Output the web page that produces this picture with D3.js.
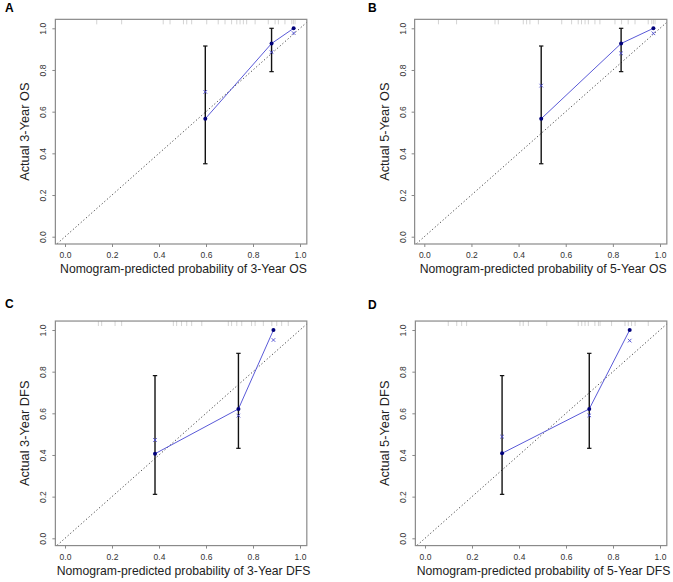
<!DOCTYPE html>
<html><head><meta charset="utf-8">
<script src="https://cdn.jsdelivr.net/npm/d3@7"></script>
<style>body{margin:0;background:#fff}svg{display:block}text{font-family:"Liberation Sans",Arial,sans-serif}</style>
</head><body>
<script>
// ---- data ----
const panelLetters = ["A", "B", "C", "D"];
const xLabels = ["Nomogram-predicted probability of 3-Year OS","Nomogram-predicted probability of 5-Year OS","Nomogram-predicted probability of 3-Year DFS","Nomogram-predicted probability of 5-Year DFS"];
const yLabels = ["Actual 3-Year OS","Actual 5-Year OS","Actual 3-Year DFS","Actual 5-Year DFS"];
const tickValues = [0, 0.2, 0.4, 0.6, 0.8, 1.0];
const predicted = [[0.597,0.879,0.973],[0.496,0.835,0.972],[0.383,0.738,0.887],[0.328,0.699,0.871]];
const observed  = [[0.566,0.927,1.0],[0.566,0.927,1.0],[0.406,0.621,1.0],[0.408,0.621,1.0]];
const ciLow     = [[0.350,0.792,null],[0.350,0.792,null],[0.211,0.432,null],[0.211,0.432,null]];
const ciHigh    = [[0.915,1.0,null],[0.915,1.0,null],[0.781,0.888,null],[0.781,0.888,null]];
const corrected = [[0.695,0.885,0.977],[0.725,0.880,0.976],[0.472,0.589,0.952],[0.488,0.590,0.949]];
const rugs = [
 [0.135,0.241,0.418,0.447,0.504,0.518,0.539,0.603,0.652,0.681,0.709,0.731,0.745,0.759,0.773,0.809,0.865,0.894,0.908,0.936,0.965,0.972,0.979],
 [0.060,0.137,0.300,0.314,0.420,0.434,0.448,0.484,0.583,0.625,0.653,0.667,0.682,0.696,0.724,0.745,0.809,0.837,0.865,0.894,0.950,0.965,0.972,0.979],
 [0.142,0.156,0.213,0.241,0.461,0.475,0.496,0.518,0.539,0.582,0.695,0.709,0.731,0.752,0.794,0.809,0.844,0.880,0.901,0.922,0.950],
 [0.099,0.135,0.156,0.177,0.404,0.418,0.440,0.518,0.652,0.667,0.681,0.695,0.723,0.738,0.745,0.794,0.851,0.865,0.879,0.894,0.950]
];

// ---- layout ----
const W = 673, H = 582;
const layout = [
  {x0:65, x1:300, y0:236.7, y1:28.3, lx:5, ly:12},
  {x0:424.3, x1:660, y0:236.7, y1:28.3, lx:368, ly:12},
  {x0:65, x1:300, y0:538.3, y1:330, lx:5, ly:308},
  {x0:425, x1:660, y0:538.3, y1:330, lx:368, ly:309}
];
const svg = d3.select("body").append("svg").attr("width", W).attr("height", H);

panelLetters.forEach((letter, i) => {
  const L = layout[i];
  const x = d3.scaleLinear().domain([0,1]).range([L.x0, L.x1]);
  const y = d3.scaleLinear().domain([0,1]).range([L.y0, L.y1]);
  const g = svg.append("g");
  const bx0 = x(-0.041), bx1 = x(1.029), by0 = y(-0.035), by1 = y(1.043);

  g.append("text").attr("x", L.lx).attr("y", L.ly).text(letter)
    .attr("font-weight","bold").attr("font-size", 12).attr("fill","#000");

  const clipId = "clip"+i;
  g.append("clipPath").attr("id", clipId).append("rect")
    .attr("x", bx0).attr("y", by1).attr("width", bx1-bx0).attr("height", by0-by1);

  // diagonal reference
  g.append("line").attr("clip-path", `url(#${clipId})`)
    .attr("x1", x(-0.1)).attr("y1", y(-0.1)).attr("x2", x(1.1)).attr("y2", y(1.1))
    .attr("stroke","#444").attr("stroke-width",1).attr("stroke-dasharray","1.2,2.3");

  // rug
  g.selectAll(".rug").data(rugs[i]).enter().append("line")
    .attr("x1", d=>x(d)).attr("x2", d=>x(d)).attr("y1", by1).attr("y2", by1+5)
    .attr("stroke","#c8c8c8").attr("stroke-width",0.8);

  // box
  g.append("rect").attr("x", bx0).attr("y", by1).attr("width", bx1-bx0).attr("height", by0-by1)
    .attr("fill","none").attr("stroke","#8a8a8a").attr("stroke-width",1.2);

  // axes
  const xa = g.append("g").attr("transform", `translate(0,${by0})`)
    .call(d3.axisBottom(x).tickValues(tickValues).tickFormat(d3.format(".1f")).tickSize(3).tickPadding(5));
  const ya = g.append("g").attr("transform", `translate(${bx0},0)`)
    .call(d3.axisLeft(y).tickValues(tickValues).tickFormat(d3.format(".1f")).tickSize(3).tickPadding(5));
  [xa, ya].forEach(a => {
    a.select(".domain").remove();
    a.selectAll(".tick line").attr("stroke","#888");
    a.selectAll(".tick text").attr("fill","#333").attr("font-size", 8.5)
      .attr("font-family","Liberation Sans, Arial, sans-serif");
  });
  ya.selectAll(".tick text").attr("x", 0).attr("y", 0).attr("dy", "0")
    .attr("text-anchor","middle").attr("transform", "translate(-9,0) rotate(-90)");

  // axis titles
  g.append("text").attr("x", (L.x0+L.x1)/2 + 1).attr("y", by0 + 29)
    .attr("text-anchor","middle").attr("font-size", 12.2).attr("fill","#222").text(xLabels[i]);
  g.append("text").attr("transform", `translate(${bx0-26},${(by0+by1)/2}) rotate(-90)`)
    .attr("text-anchor","middle").attr("font-size", 12.8).attr("fill","#222").text(yLabels[i]);

  // calibration line
  const pts = predicted[i].map((p,k)=>({p, o:observed[i][k], lo:ciLow[i][k], hi:ciHigh[i][k], c:corrected[i][k]}));
  g.append("path").datum(pts)
    .attr("d", d3.line().x(d=>x(d.p)).y(d=>y(d.o)))
    .attr("fill","none").attr("stroke","#5a5ad8").attr("stroke-width",1);

  // error bars
  pts.filter(d=>d.lo!==null).forEach(d=>{
    const cx = x(d.p);
    g.append("line").attr("x1",cx).attr("x2",cx).attr("y1",y(d.lo)).attr("y2",y(d.hi))
      .attr("stroke","#111").attr("stroke-width",1.4);
    [d.lo,d.hi].forEach(v=>g.append("line").attr("x1",cx-2.2).attr("x2",cx+2.2).attr("y1",y(v)).attr("y2",y(v))
      .attr("stroke","#111").attr("stroke-width",1.2));
  });

  // corrected (x markers)
  pts.forEach(d=>{
    const cx = x(d.p), cy = y(d.c), s = 1.8;
    g.append("path").attr("d", `M${cx-s},${cy-s}L${cx+s},${cy+s}M${cx-s},${cy+s}L${cx+s},${cy-s}`)
      .attr("stroke","#4b4bd0").attr("stroke-width",0.9).attr("fill","none");
  });

  // observed points
  g.selectAll(".pt").data(pts).enter().append("circle")
    .attr("cx", d=>x(d.p)).attr("cy", d=>y(d.o)).attr("r", 2)
    .attr("fill","#00007a");
});
</script>
</body></html>
